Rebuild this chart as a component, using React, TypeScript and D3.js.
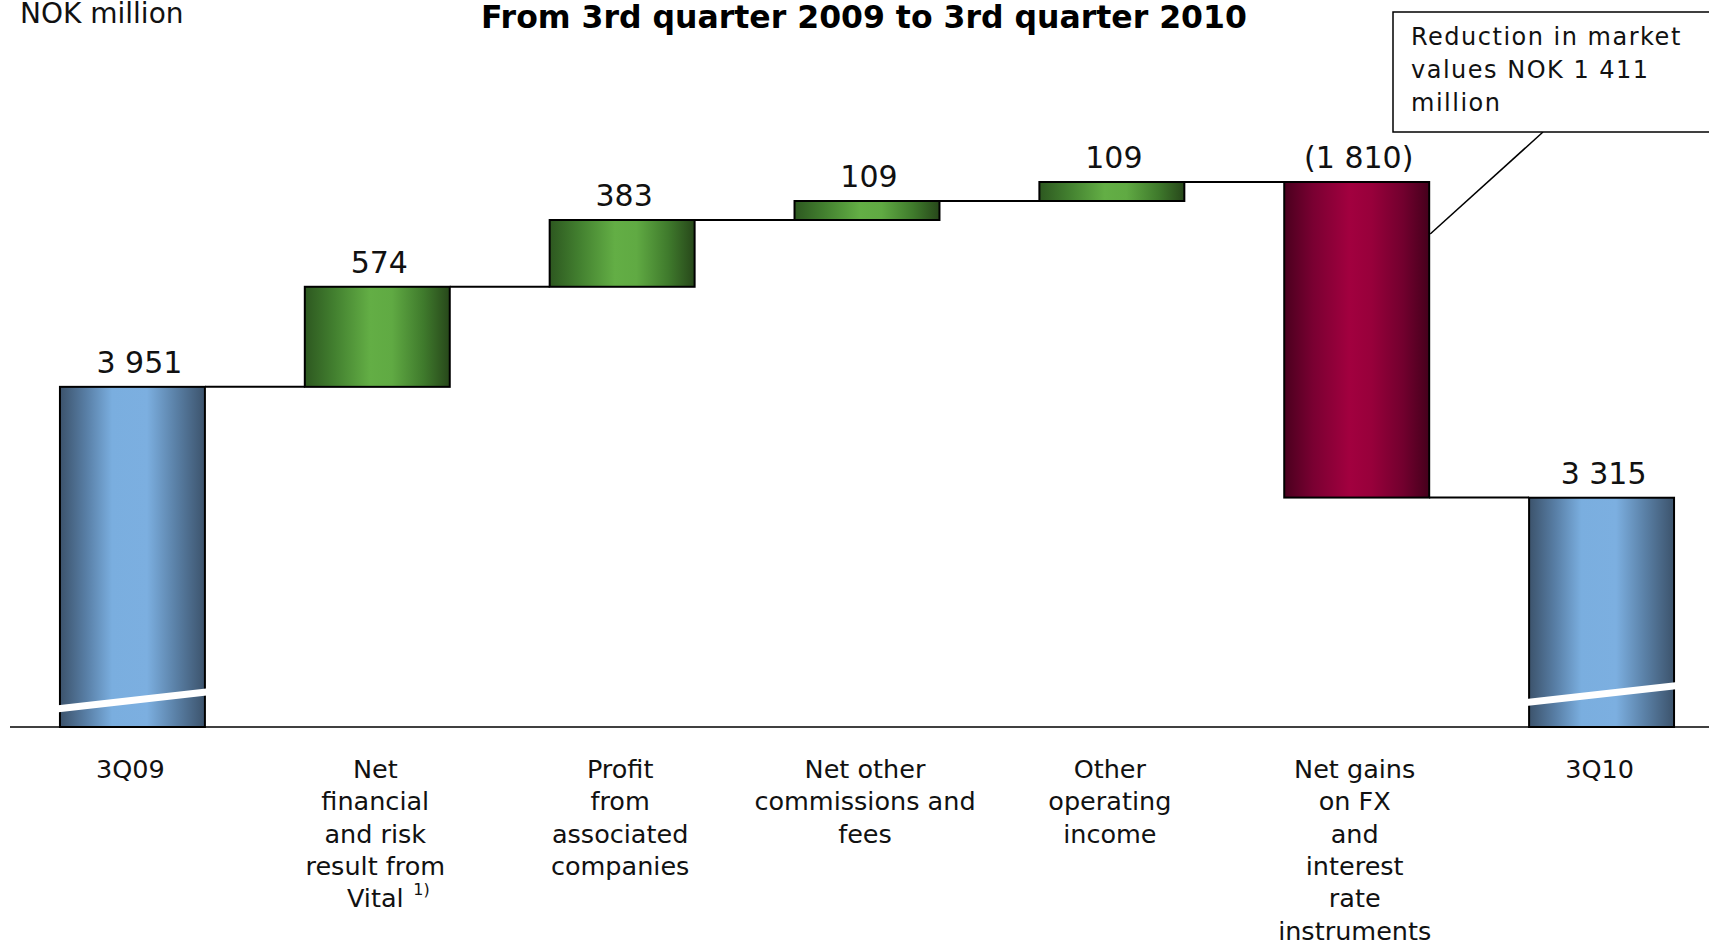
import React, { useEffect, useRef } from 'react'
import * as d3 from 'd3'

// waterfall: 3Q09 -> 3Q10, NOK million
const categoryLines = [
  ['3Q09'],
  ['Net', 'financial', 'and risk', 'result from', 'Vital'],
  ['Profit', 'from', 'associated', 'companies'],
  ['Net other', 'commissions and', 'fees'],
  ['Other', 'operating', 'income'],
  ['Net gains', 'on FX', 'and', 'interest', 'rate', 'instruments'],
  ['3Q10'],
]
const startValue = 3951
const changes = [574, 383, 109, 109, -1810]
const endValue = 3315
const valueLabels = ['3 951', '574', '383', '109', '109', '(1 810)', '3 315']
const axisFloor = 2000 // axis is broken, bars start here
const noteLines = ['Reduction in market', 'values NOK 1 411', 'million']

const W = 1709
const H = 943
const font = 'DejaVu Sans, Verdana, sans-serif'

type Step = { i: number; kind: string; from: number; to: number }

function buildSteps(): Step[] {
  let steps: Step[] = [{ i: 0, kind: 'total', from: axisFloor, to: startValue }]
  let run = startValue
  changes.forEach((c, k) => {
    steps.push({ i: k + 1, kind: c >= 0 ? 'up' : 'down', from: run, to: run + c })
    run += c
  })
  steps.push({ i: changes.length + 1, kind: 'total', from: axisFloor, to: endValue })
  return steps
}

export default function App() {
  const ref = useRef<SVGSVGElement>(null)

  useEffect(() => {
    const svg = d3.select(ref.current)
    svg.selectAll('*').remove()

    const steps = buildSteps()
    const peak = d3.max(steps, d => Math.max(d.from, d.to)) as number

    const x = d3.scaleBand<number>()
      .domain(steps.map(d => d.i))
      .range([10, 1724])
      .paddingInner(0.408)
      .paddingOuter(0.204)
    const y = d3.scaleLinear().domain([axisFloor, peak]).range([727, 182])

    const defs = svg.append('defs')
    const grad = (id: string, stops: [number, string][]) => {
      const g = defs.append('linearGradient').attr('id', id)
        .attr('x1', 0).attr('x2', 1).attr('y1', 0).attr('y2', 0)
      stops.forEach(([o, c]) => g.append('stop').attr('offset', o).attr('stop-color', c))
    }
    grad('gTotal', [[0, '#3c536c'], [0.18, '#587ea5'], [0.36, '#7aaedf'], [0.6, '#7cafe0'], [0.8, '#5a80a6'], [1, '#3c536c']])
    grad('gUp', [[0, '#2d5820'], [0.2, '#427f2f'], [0.45, '#63ae45'], [0.6, '#60aa43'], [0.82, '#3f7a2c'], [1, '#27471a']])
    grad('gDown', [[0, '#4a001e'], [0.2, '#7a0032'], [0.45, '#a2003f'], [0.6, '#98003b'], [0.82, '#72002e'], [1, '#45001c']])

    const fillFor = (k: string) => k === 'total' ? 'url(#gTotal)' : k === 'up' ? 'url(#gUp)' : 'url(#gDown)'

    // base line
    svg.append('line')
      .attr('x1', 10).attr('x2', W)
      .attr('y1', y(axisFloor)).attr('y2', y(axisFloor))
      .attr('stroke', '#000').attr('stroke-width', 1.5)

    // connectors
    const levels = steps.slice(0, -1).map(d => d.to)
    svg.selectAll('.conn')
      .data(levels)
      .enter()
      .append('line')
      .attr('x1', (d, k) => (x(k) as number) + x.bandwidth())
      .attr('x2', (d, k) => x(k + 1) as number)
      .attr('y1', d => y(d))
      .attr('y2', d => y(d))
      .attr('stroke', '#000')
      .attr('stroke-width', 2)

    // bars
    svg.selectAll('.bar')
      .data(steps)
      .enter()
      .append('rect')
      .attr('x', d => x(d.i) as number)
      .attr('width', x.bandwidth())
      .attr('y', d => y(Math.max(d.from, d.to)))
      .attr('height', d => Math.abs(y(d.from) - y(d.to)))
      .attr('fill', d => fillFor(d.kind))
      .attr('stroke', '#000')
      .attr('stroke-width', 2)

    // axis break marks on the totals
    const totals = steps.filter(d => d.kind === 'total')
    svg.selectAll('.brk')
      .data(totals)
      .enter()
      .append('line')
      .attr('x1', d => (x(d.i) as number) - 6)
      .attr('x2', d => (x(d.i) as number) + x.bandwidth() + 6)
      .attr('y1', (d, k) => y(axisFloor + 102 + k * 36))
      .attr('y2', (d, k) => y(axisFloor + 204 + k * 36))
      .attr('stroke', '#fff')
      .attr('stroke-width', 7)

    // value labels
    svg.selectAll('.val')
      .data(steps)
      .enter()
      .append('text')
      .attr('x', d => (x(d.i) as number) + x.bandwidth() / 2 + (d.i === 0 ? 7 : 2))
      .attr('y', d => y(Math.max(d.from, d.to)) - 14)
      .attr('text-anchor', 'middle')
      .style('font-family', font)
      .style('font-size', '30px')
      .attr('fill', '#111')
      .text((d, k) => valueLabels[k])

    // category labels
    const cat = svg.selectAll('.cat')
      .data(categoryLines)
      .enter()
      .append('text')
      .attr('text-anchor', 'middle')
      .style('font-family', font)
      .style('font-size', '25.5px')
      .attr('fill', '#111')
    cat.selectAll('tspan')
      .data((lines, k) => lines.map(t => ({ t, k })))
      .enter()
      .append('tspan')
      .attr('x', d => (x(d.k) as number) + x.bandwidth() / 2 - 2)
      .attr('y', (d, j) => 778 + j * 32.3)
      .text(d => d.t)

    // footnote marker on Vital
    svg.append('text')
      .attr('x', (x(1) as number) + x.bandwidth() / 2 + 36)
      .attr('y', 778 + 4 * 32.3 - 12)
      .style('font-family', font)
      .style('font-size', '16px')
      .attr('fill', '#111')
      .text('1)')

    // header texts
    svg.append('text')
      .attr('x', 20).attr('y', 23)
      .style('font-family', font)
      .style('font-size', '28px')
      .attr('fill', '#111')
      .text('NOK million')

    svg.append('text')
      .attr('x', 864).attr('y', 28)
      .attr('text-anchor', 'middle')
      .style('font-family', font)
      .style('font-size', '31.5px')
      .style('font-weight', 'bold')
      .attr('fill', '#000')
      .text('From 3rd quarter 2009 to 3rd quarter 2010')

    // callout box for FX / interest bar
    const downBar = steps.find(d => d.kind === 'down') as Step
    const bx = (x(downBar.i) as number) + x.bandwidth()
    svg.append('line')
      .attr('x1', bx + 1).attr('y1', y(downBar.from) + 52)
      .attr('x2', 1543).attr('y2', 132)
      .attr('stroke', '#000').attr('stroke-width', 1.5)
    svg.append('rect')
      .attr('x', 1393).attr('y', 12)
      .attr('width', 330).attr('height', 120)
      .attr('fill', '#fff')
      .attr('stroke', '#000').attr('stroke-width', 1.5)
    svg.append('text')
      .style('font-family', font)
      .style('font-size', '24px')
      .style('letter-spacing', '1.5px')
      .attr('fill', '#111')
      .selectAll('tspan')
      .data(noteLines)
      .enter()
      .append('tspan')
      .attr('x', 1411)
      .attr('y', (d, j) => 45 + j * 33)
      .text(d => d)
  }, [])

  return (
    <div style={{ position: 'absolute', left: 0, top: 0, width: W, height: H, overflow: 'hidden', background: '#fff' }}>
      <svg ref={ref} width={W} height={H} />
    </div>
  )
}
